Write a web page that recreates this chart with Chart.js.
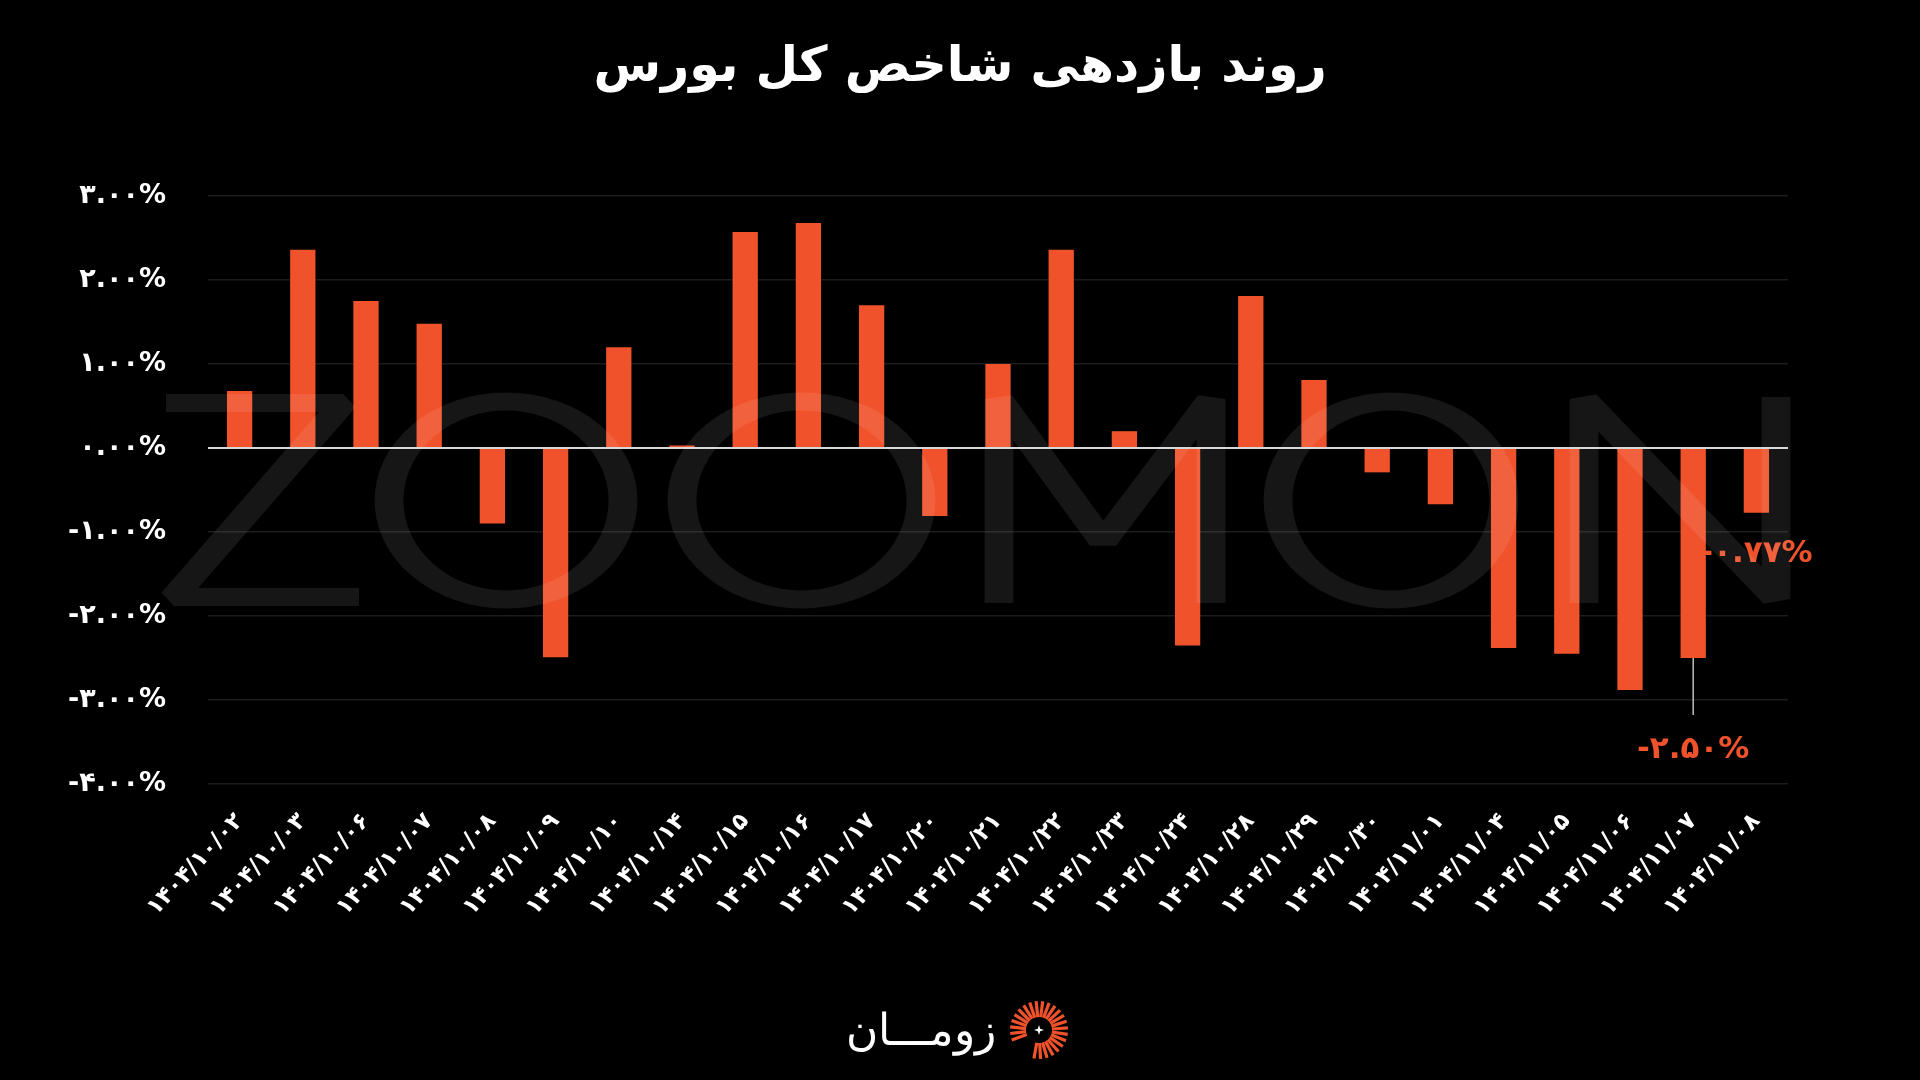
<!DOCTYPE html>
<html lang="fa">
<head>
<meta charset="utf-8">
<title>روند بازدهی شاخص کل بورس</title>
<script src="https://cdn.jsdelivr.net/npm/chart.js@4.4.1/dist/chart.umd.min.js"></script>
<style>
  html, body { margin:0; padding:0; background:#000; width:1920px; height:1080px; overflow:hidden; }
  #stage { position:absolute; left:0; top:0; width:1920px; height:1080px; }
  #chart { position:absolute; left:0; top:0; }
  #title {
    position:absolute; left:0; top:25px; width:1920px; text-align:center;
    direction:rtl; color:#fff; font-family:"DejaVu Sans", sans-serif; font-weight:bold;
    font-size:49px; line-height:80px;
  }
  #logo {
    position:absolute; left:846px; top:995px; height:70px; display:flex; align-items:center; gap:12px;
  }
  #logoText {
    direction:rtl; color:#fff; font-family:"DejaVu Sans", sans-serif; font-weight:200;
    font-size:44px; line-height:70px;
  }
</style>
</head>
<body>
<div id="stage">
  <canvas id="chart" width="1920" height="1080"></canvas>
  <div id="title">روند بازدهی شاخص کل بورس</div>
  <div id="logo">
    <span id="logoText">زومـــان</span>
    <svg id="logoIcon" width="62" height="62" viewBox="-31 -31 62 62"></svg>
  </div>
</div>
<script>
// ---------------- data ----------------
const categories = [
  '۱۴۰۴/۱۰/۰۲','۱۴۰۴/۱۰/۰۳','۱۴۰۴/۱۰/۰۶','۱۴۰۴/۱۰/۰۷','۱۴۰۴/۱۰/۰۸',
  '۱۴۰۴/۱۰/۰۹','۱۴۰۴/۱۰/۱۰','۱۴۰۴/۱۰/۱۴','۱۴۰۴/۱۰/۱۵','۱۴۰۴/۱۰/۱۶',
  '۱۴۰۴/۱۰/۱۷','۱۴۰۴/۱۰/۲۰','۱۴۰۴/۱۰/۲۱','۱۴۰۴/۱۰/۲۲','۱۴۰۴/۱۰/۲۳',
  '۱۴۰۴/۱۰/۲۴','۱۴۰۴/۱۰/۲۸','۱۴۰۴/۱۰/۲۹','۱۴۰۴/۱۰/۳۰','۱۴۰۴/۱۱/۰۱',
  '۱۴۰۴/۱۱/۰۴','۱۴۰۴/۱۱/۰۵','۱۴۰۴/۱۱/۰۶','۱۴۰۴/۱۱/۰۷','۱۴۰۴/۱۱/۰۸'
];
const returnsPct = [
  0.68, 2.36, 1.75, 1.48, -0.90,
  -2.49, 1.20, 0.03, 2.57, 2.68,
  1.70, -0.81, 1.00, 2.36, 0.20,
  -2.35, 1.81, 0.81, -0.29, -0.67,
  -2.38, -2.45, -2.88, -2.50, -0.77
];
const yTickValues = [3, 2, 1, 0, -1, -2, -3, -4];
const calloutIndexes = [23, 24];
const watermarkText = 'ZOOMON';

// ---------------- helpers ----------------
const faDigits = '۰۱۲۳۴۵۶۷۸۹';
function toFa(s) { return String(s).replace(/[0-9]/g, d => faDigits[+d]); }
function fmtPct(v) { return toFa(Number(v).toFixed(2)) + '%'; }

const ORANGE = '#F0532B';

// faint "ZOOMON" watermark laid over the plot (horizontally stretched thin letters)
const watermarkPlugin = {
  id: 'watermark',
  afterDatasetsDraw(chart) {
    const ctx = chart.ctx;
    const SX = 1.6;            // horizontal stretch of the watermark lettering
    ctx.save();
    ctx.strokeStyle = 'rgba(255,255,255,0.085)';
    ctx.lineWidth = 18;
    ctx.lineJoin = 'bevel';
    ctx.lineCap = 'butt';
    const top = 403, bot = 597;
    const path = pts => {
      ctx.save(); ctx.scale(SX, 1); ctx.beginPath();
      pts.forEach((p, k) => k ? ctx.lineTo(p[0] / SX, p[1]) : ctx.moveTo(p[0] / SX, p[1]));
      ctx.stroke(); ctx.restore();
    };
    const glyphs = {
      Z: (x0, x1) => path([[x0 + 6, top], [x1 - 16, top], [x0 + 14, bot], [x1, bot]]),
      O: (x0, x1) => {
        ctx.save(); ctx.scale(SX, 1); ctx.beginPath();
        ctx.ellipse((x0 + x1) / 2 / SX, (top + bot) / 2 + 0.5, ((x1 - x0) / 2 - 14) / SX, (bot - top) / 2 + 2, 0, 0, Math.PI * 2);
        ctx.stroke(); ctx.restore();
      },
      M: (x0, x1) => path([[x0 + 14, bot + 6], [x0 + 14, top - 4], [(x0 + x1) / 2 - 2, bot - 55], [x1 - 14, top - 4], [x1 - 14, bot + 6]]),
      N: (x0, x1) => path([[x0 + 14, bot + 6], [x0 + 14, top - 4], [x1 - 14, bot + 2], [x1 - 14, top - 6]])
    };
    const spans = [[160, 359], [375, 637], [668, 935], [985, 1225], [1264, 1518], [1570, 1790]];
    [...watermarkText].forEach((ch, i) => { if (glyphs[ch] && spans[i]) glyphs[ch](spans[i][0], spans[i][1]); });
    ctx.restore();
  }
};

// callout labels (drawn before bars so the neighbouring bar overlaps them, as in the source)
const calloutPlugin = {
  id: 'callouts',
  beforeDatasetsDraw(chart) {
    const ctx = chart.ctx;
    const meta = chart.getDatasetMeta(0);
    const style = { 23: { line: 57, gap: 92 }, 24: { line: 0, gap: 41 } };
    ctx.save();
    calloutIndexes.forEach(i => {
      const el = meta.data[i];
      const st = style[i] || { line: 0, gap: 40 };
      const x = el.x, yEnd = el.y;
      if (st.line) {
        ctx.strokeStyle = '#bdbdbd';
        ctx.lineWidth = 1.5;
        ctx.beginPath();
        ctx.moveTo(x, yEnd);
        ctx.lineTo(x, yEnd + st.line);
        ctx.stroke();
      }
      ctx.fillStyle = ORANGE;
      ctx.font = 'bold 31px "DejaVu Sans"';
      ctx.textAlign = 'center';
      ctx.textBaseline = 'middle';
      ctx.fillText(fmtPct(returnsPct[i]), x, yEnd + st.gap);
    });
    ctx.restore();
  }
};

const chart = new Chart(document.getElementById('chart').getContext('2d'), {
  type: 'bar',
  data: {
    labels: categories,
    datasets: [{
      data: returnsPct,
      backgroundColor: ORANGE,
      borderWidth: 0,
      barPercentage: 0.4,
      categoryPercentage: 1.0
    }]
  },
  options: {
    responsive: false,
    animation: false,
    devicePixelRatio: 1,
    layout: { padding: { left: 18, right: 132, top: 196, bottom: 96 } },
    plugins: { legend: { display: false }, tooltip: { enabled: false }, title: { display: false } },
    scales: {
      x: {
        grid: { display: false, drawTicks: false },
        border: { display: false },
        ticks: {
          color: '#fff',
          font: { family: 'DejaVu Sans', size: 23, weight: 'bold' },
          minRotation: 47, maxRotation: 47, autoSkip: false, padding: 24
        },
        afterFit(s) { s.height = 200; }
      },
      y: {
        min: -4, max: 3,
        afterBuildTicks(s) { s.ticks = yTickValues.map(v => ({ value: v })); },
        grid: {
          drawTicks: false,
          color: c => (c.tick && c.tick.value === 0) ? '#d6d6d6' : '#1c1c1c',
          lineWidth: c => (c.tick && c.tick.value === 0) ? 2 : 1.5
        },
        border: { display: false },
        ticks: {
          color: '#fff',
          font: { family: 'DejaVu Sans', size: 27, weight: 'bold' },
          padding: 42,
          callback: v => fmtPct(v)
        },
        afterFit(s) { s.width = 190; }
      }
    }
  },
  plugins: [calloutPlugin, watermarkPlugin]
});

// logo icon: orange radial rays with a small white star
(function () {
  const svg = document.getElementById('logoIcon');
  let html = '';
  const n = 24;
  for (let k = 0; k < n; k++) {
    const a = (-200 + k * (300 / (n - 1))) * Math.PI / 180;
    const r0 = 13, r1 = 29;
    html += `<line x1="${(r0 * Math.cos(a)).toFixed(2)}" y1="${(r0 * Math.sin(a)).toFixed(2)}" x2="${(r1 * Math.cos(a)).toFixed(2)}" y2="${(r1 * Math.sin(a)).toFixed(2)}" stroke="${ORANGE}" stroke-width="3.2"/>`;
  }
  html += '<path d="M0,-5 L1.2,-1.2 L5,0 L1.2,1.2 L0,5 L-1.2,1.2 L-5,0 L-1.2,-1.2 Z" fill="#fff"/>';
  svg.innerHTML = html;
})();
</script>
</body>
</html>
